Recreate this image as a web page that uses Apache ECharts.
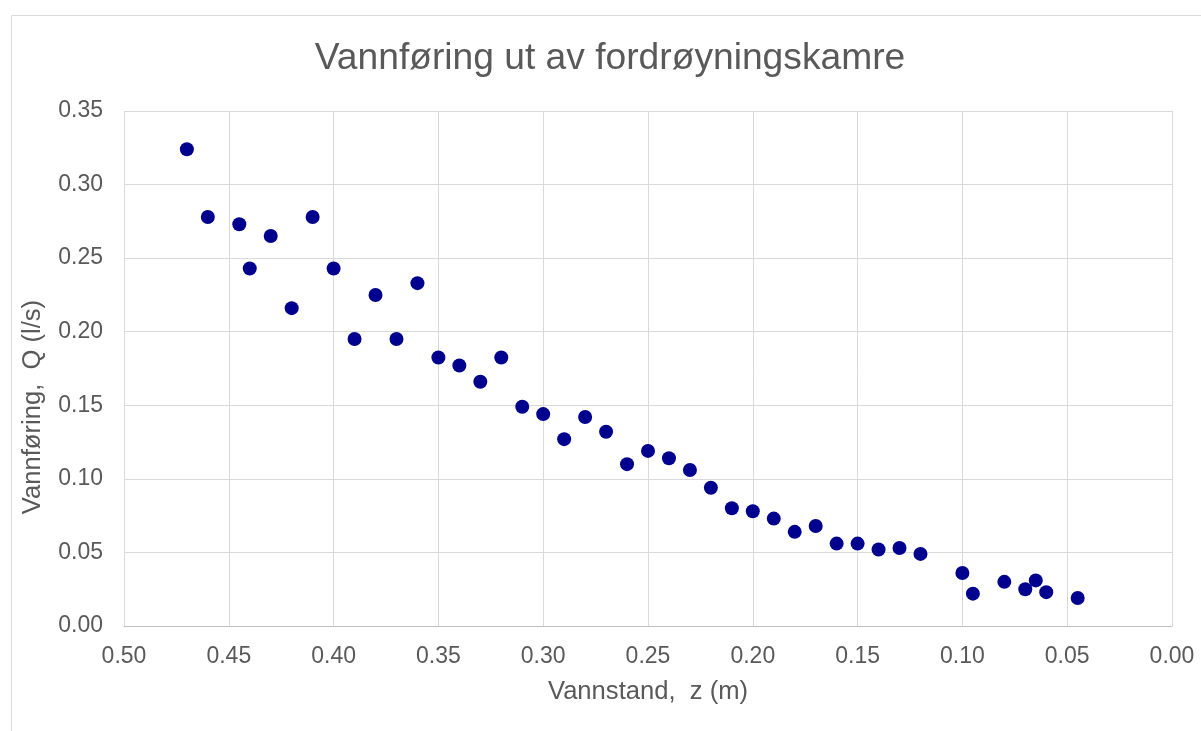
<!DOCTYPE html>
<html>
<head>
<meta charset="utf-8">
<script src="https://cdn.jsdelivr.net/npm/echarts@6/dist/echarts.min.js"></script>
<style>
html,body{margin:0;padding:0;background:#fff;}
#c{width:1201px;height:731px;}
</style>
</head>
<body>
<div id="c"></div>
<script>
// Data
const titleText = 'Vannføring ut av fordrøyningskamre';
const xName = 'Vannstand,  z (m)';
const yName = 'Vannføring,  Q (l/s)';
const zValues = [0.470,0.460,0.445,0.430,0.410,0.440,0.400,0.420,0.380,0.360,0.390,0.370,0.350,0.340,0.330,0.320,0.310,0.300,0.290,0.280,0.270,0.260,0.250,0.240,0.230,0.220,0.210,0.200,0.190,0.180,0.170,0.160,0.150,0.140,0.130,0.120,0.100,0.095,0.080,0.070,0.065,0.060,0.045];
const qValues = [0.324,0.278,0.273,0.265,0.278,0.243,0.243,0.216,0.225,0.233,0.195,0.195,0.1825,0.177,0.166,0.1825,0.149,0.144,0.127,0.142,0.132,0.110,0.119,0.114,0.106,0.094,0.080,0.078,0.073,0.064,0.068,0.056,0.056,0.052,0.053,0.049,0.036,0.022,0.030,0.025,0.031,0.023,0.019];
const xTicks = { min: 0, max: 0.5, step: 0.05 };
const yTicks = { min: 0, max: 0.35, step: 0.05 };

const points = zValues.map((z, i) => [z, qValues[i]]);
const FONT = '"Liberation Sans", Arial, sans-serif';
const TXT = '#595959';

const chart = echarts.init(document.getElementById('c'), null, { renderer: 'canvas' });
chart.setOption({
  backgroundColor: '#ffffff',
  animation: false,
  grid: { left: 124, right: 29, top: 111, bottom: 105, containLabel: false, outerBoundsMode: 'none' },
  xAxis: {
    type: 'value', inverse: true,
    min: xTicks.min, max: xTicks.max, interval: xTicks.step,
    axisLine: { show: true, lineStyle: { color: '#bfbfbf', width: 1 } },
    axisTick: { show: false },
    splitLine: { show: true, lineStyle: { color: '#d9d9d9', width: 1 } },
    axisLabel: { formatter: v => v.toFixed(2), fontSize: 23, color: TXT, fontFamily: FONT, margin: 19 },
    name: xName, nameLocation: 'middle', nameGap: 53,
    nameTextStyle: { fontSize: 25.6, color: TXT, fontFamily: FONT }
  },
  yAxis: {
    type: 'value',
    min: yTicks.min, max: yTicks.max, interval: yTicks.step,
    axisLine: { show: false },
    axisTick: { show: false },
    splitLine: { show: true, lineStyle: { color: '#d9d9d9', width: 1 } },
    axisLabel: { formatter: v => v.toFixed(2), fontSize: 23, color: TXT, fontFamily: FONT, margin: 21, padding: [5, 0, 0, 0] }
  },
  graphic: [
    { type: 'rect', silent: true, z: -1,
      shape: { x: 11.5, y: 15.5, width: 1200, height: 730 },
      style: { fill: 'none', stroke: '#d9d9d9', lineWidth: 1 } },
    { type: 'text', x: 610, y: 59,
      style: { text: titleText, font: '37.2px ' + FONT, fill: TXT, textAlign: 'center', textVerticalAlign: 'middle' } },
    { type: 'text', x: 33, y: 407, rotation: Math.PI / 2,
      style: { text: yName, font: '25.6px ' + FONT, fill: TXT, textAlign: 'center', textVerticalAlign: 'middle' } }
  ],
  series: [{
    type: 'scatter',
    data: points,
    symbol: 'circle',
    symbolSize: 14,
    itemStyle: { color: '#00008f', opacity: 1 }
  }]
});
</script>
</body>
</html>
